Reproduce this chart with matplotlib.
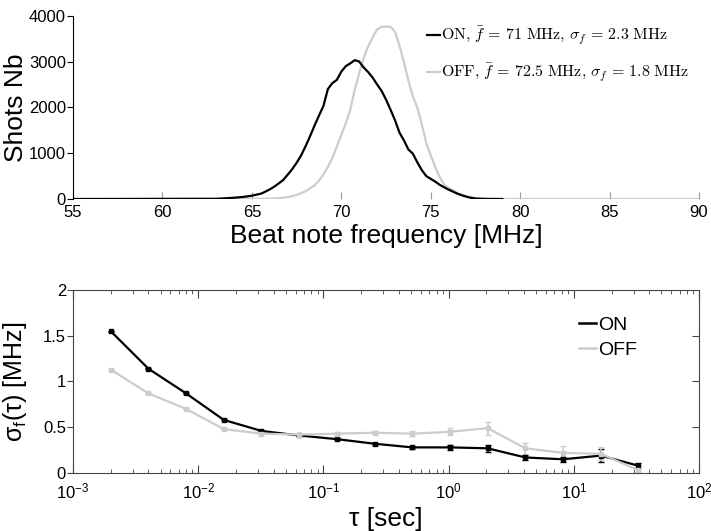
import math
import matplotlib
matplotlib.use("Agg")
import matplotlib.pyplot as plt
from matplotlib.lines import Line2D
from matplotlib.ticker import LogLocator, NullFormatter, FuncFormatter

plt.rcParams['font.family'] = ['Liberation Sans', 'DejaVu Sans']
plt.rcParams['mathtext.fontset'] = 'cm'

# --- top panel: beat note histograms ---
freq_on = [55, 63.0, 63.5, 64.0, 64.5, 65.0, 65.25, 65.5, 65.75, 66.0, 66.25, 66.5, 66.75,
           67.0, 67.25, 67.5, 67.75, 68.0, 68.25, 68.5, 68.75, 69.0, 69.25, 69.5, 69.75,
           70.0, 70.25, 70.5, 70.75, 71.0, 71.25, 71.5, 71.75, 72.0, 72.25, 72.5, 72.75,
           73.0, 73.25, 73.5, 73.75, 74.0, 74.25, 74.5, 74.75, 75.0, 75.25, 75.5, 75.75,
           76.0, 76.25, 76.5, 76.75, 77.0, 77.25, 77.5, 78.0, 79.0]
shots_on = [0, 5, 15, 28, 45, 72, 95, 115, 160, 210, 270, 340, 415,
            530, 650, 790, 950, 1150, 1370, 1600, 1820, 2030, 2400, 2530, 2600,
            2780, 2900, 2960, 3030, 3000, 2870, 2770, 2650, 2500, 2360, 2170, 1950,
            1720, 1450, 1280, 1080, 990, 800, 630, 500, 440, 380, 310, 255,
            205, 160, 115, 80, 50, 25, 10, 2, 0]

freq_off = [55, 64.0, 65.0, 66.0, 66.5, 67.0, 67.5, 68.0, 68.25, 68.5, 68.75, 69.0, 69.25,
            69.5, 69.75, 70.0, 70.25, 70.5, 70.75, 71.0, 71.25, 71.5, 71.75, 72.0, 72.25,
            72.5, 72.75, 73.0, 73.25, 73.5, 73.75, 74.0, 74.25, 74.5, 74.75, 75.0, 75.25,
            75.5, 75.75, 76.0, 76.25, 76.5, 76.75, 77.0, 77.5, 78.0, 78.5, 79.0, 90]
shots_off = [0, 0, 3, 8, 18, 40, 87, 170, 233, 300, 400, 540, 700,
             900, 1150, 1400, 1650, 1950, 2380, 2750, 3080, 3330, 3530, 3700, 3760,
             3760, 3760, 3650, 3350, 2980, 2580, 2240, 1990, 1630, 1220, 950, 700,
             480, 310, 240, 190, 130, 90, 60, 25, 10, 4, 0, 0]

label_on = r"$\mathrm{ON},\,\bar{f}\,=\,71\ \mathrm{MHz},\,\sigma_f\,=\,2.3\ \mathrm{MHz}$"
label_off = r"$\mathrm{OFF},\,\bar{f}\,=\,72.5\ \mathrm{MHz},\,\sigma_f\,=\,1.8\ \mathrm{MHz}$"

# --- bottom panel: frequency deviation vs averaging time ---
tau = [0.002, 0.004, 0.008, 0.016, 0.032, 0.064, 0.128, 0.256, 0.512, 1.024,
       2.048, 4.096, 8.192, 16.384, 32.768]
sigma_on = [1.55, 1.14, 0.87, 0.58, 0.46, 0.41, 0.37, 0.32, 0.28, 0.28,
            0.27, 0.17, 0.15, 0.19, 0.08]
err_on = [0.005, 0.005, 0.005, 0.005, 0.005, 0.005, 0.01, 0.012, 0.02, 0.025,
          0.035, 0.025, 0.03, 0.07, 0.03]
sigma_off = [1.13, 0.87, 0.70, 0.48, 0.43, 0.42, 0.43, 0.44, 0.43, 0.45,
             0.49, 0.27, 0.22, 0.21, 0.03]
err_off = [0.005, 0.005, 0.005, 0.005, 0.005, 0.005, 0.02, 0.02, 0.03, 0.04,
           0.07, 0.06, 0.07, 0.07, 0.02]

GRAY = '#cccccc'
SPINE = '#444444'

fig = plt.figure(figsize=(7.11, 5.31), dpi=100)

ax1 = fig.add_axes([0.1027, 0.6252, 0.8805, 0.3452])
ax1.plot(freq_off, shots_off, color=GRAY, lw=1.6, label=label_off)
ax1.plot(freq_on, shots_on, color='black', lw=1.6, label=label_on)
ax1.set_xlim(55, 90)
ax1.set_ylim(0, 4000)
ax1.set_xticks(range(55, 91, 5))
ax1.set_yticks(range(0, 4001, 1000))
for s in ['top', 'right', 'bottom']:
    ax1.spines[s].set_visible(False)
ax1.spines['left'].set_color('black')
ax1.tick_params(axis='x', direction='in', length=5, color='#999999', labelsize=12, pad=4)
ax1.tick_params(axis='y', direction='out', length=4, labelsize=12, pad=1)
ax1.set_xlabel('Beat note frequency [MHz]', fontsize=19, labelpad=3)
ax1.set_ylabel('Shots Nb', fontsize=19)
ax1.yaxis.set_label_coords(-0.072, 0.5)
h, l = ax1.get_legend_handles_labels()
ax1.legend(h[::-1], l[::-1], loc='upper left', bbox_to_anchor=(0.55, 1.0), frameon=False,
           fontsize=11.5, handlelength=0.8, handletextpad=0.1, labelspacing=0.9,
           borderaxespad=0.2)

ax2 = fig.add_axes([0.1027, 0.1092, 0.8805, 0.3447])
ax2.errorbar(tau, sigma_on, yerr=err_on, color='black', lw=1.6, marker='s', ms=2.5,
             capsize=2, elinewidth=1.2)
ax2.errorbar(tau, sigma_off, yerr=err_off, color=GRAY, lw=1.6, marker='s', ms=2.5,
             capsize=2, elinewidth=1.2)
ax2.set_xscale('log')
ax2.set_xlim(1e-3, 1e2)
ax2.set_ylim(0, 2)
ax2.set_yticks([0, 0.5, 1, 1.5, 2])
ax2.yaxis.set_major_formatter(FuncFormatter(lambda v, _: '%g' % v))
ax2.xaxis.set_major_locator(LogLocator(base=10, numticks=10))
ax2.xaxis.set_minor_locator(LogLocator(base=10, subs=range(2, 10), numticks=20))
ax2.xaxis.set_minor_formatter(NullFormatter())
ax2.xaxis.set_major_formatter(FuncFormatter(
    lambda v, _: r'$\mathregular{10^{%d}}$' % round(math.log10(v))))
for s in ax2.spines.values():
    s.set_color(SPINE)
ax2.tick_params(axis='x', which='both', direction='in', top=True, color=SPINE,
                labelsize=12, pad=6)
ax2.tick_params(axis='x', which='major', length=6)
ax2.tick_params(axis='x', which='minor', length=3)
ax2.tick_params(axis='y', direction='out', length=4, labelsize=12, pad=1, color=SPINE)
ax2r = ax2.twinx()
ax2r.set_ylim(0, 2)
ax2r.set_yticks([0.5, 1, 1.5])
ax2r.tick_params(axis='y', direction='in', length=5, labelright=False, color=SPINE)
for s in ax2r.spines.values():
    s.set_visible(False)
ax2.set_xlabel('τ [sec]', fontsize=19, labelpad=4)
ax2.set_ylabel(r'$\mathregular{\sigma_f(\tau)}$ [MHz]', fontsize=18)
ax2.yaxis.set_label_coords(-0.07, 0.5)
legend_handles = [Line2D([], [], color='black', lw=1.8), Line2D([], [], color=GRAY, lw=1.8)]
ax2.legend(legend_handles, ['ON', 'OFF'], loc='upper left', bbox_to_anchor=(0.78, 0.95),
           frameon=False, fontsize=14, handlelength=0.9, handletextpad=0.1,
           labelspacing=0.35)

fig.savefig('out.png', dpi=100)
